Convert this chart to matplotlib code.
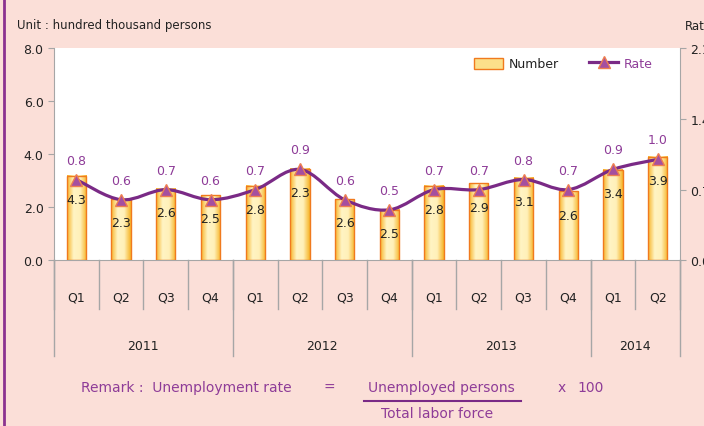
import numpy as np
import matplotlib
matplotlib.use("Agg")
import matplotlib.pyplot as plt
import matplotlib.transforms as mtransforms
from matplotlib.path import Path
from matplotlib.patches import PathPatch, Rectangle
from matplotlib.lines import Line2D
from matplotlib.colors import LinearSegmentedColormap

# data
quarters = ["Q1", "Q2", "Q3", "Q4"] * 3 + ["Q1", "Q2"]
years = ["2011", "2012", "2013", "2014"]
year_sizes = [4, 4, 4, 2]
number = [3.2, 2.3, 2.7, 2.45, 2.8, 3.45, 2.3, 1.9, 2.8, 2.9, 3.1, 2.6, 3.4, 3.9]
number_labels = ["4.3", "2.3", "2.6", "2.5", "2.8", "2.3", "2.6", "2.5",
                 "2.8", "2.9", "3.1", "2.6", "3.4", "3.9"]
rate = [0.8, 0.6, 0.7, 0.6, 0.7, 0.9, 0.6, 0.5, 0.7, 0.7, 0.8, 0.7, 0.9, 1.0]

bg = "#FBDFD8"
purple = "#7A2A86"
purple_txt = "#8E3C98"
grey = "#A6A6A6"
plt.rcParams["font.family"] = ["DejaVu Sans"]

fig = plt.figure(figsize=(7.04, 4.27), dpi=100, facecolor=bg)
W, H = 704, 427
ax = fig.add_axes([54 / W, 1 - 261.3 / H, 626 / W, 212 / H])
ax.set_facecolor("white")

x = np.arange(len(number))

# bars with a horizontal yellow gradient
cmap = LinearSegmentedColormap.from_list("bar", ["#F7B52C", "#FFF4C4", "#FFF0B8", "#F6B428"])
grad = np.linspace(0, 1, 64).reshape(1, -1)
bars = ax.bar(x, number, width=0.43, facecolor="none", edgecolor="#F07A1E", lw=1, zorder=3)
for b in bars:
    ax.imshow(grad, cmap=cmap, aspect="auto", zorder=2,
              extent=[b.get_x(), b.get_x() + b.get_width(), 0, b.get_height()])
for xi, h, lbl in zip(x, number, number_labels):
    ax.annotate(lbl, (xi, h), xytext=(0, -17), textcoords="offset points",
                ha="center", va="center", fontsize=9, color="#222222", zorder=6)

ax.set_xlim(-0.5, len(number) - 0.5)
ax.set_ylim(0, 8)
ax.set_yticks([0, 2, 4, 6, 8])
ax.set_yticklabels([f"{v:.1f}" for v in [0, 2, 4, 6, 8]])
ax.set_xticks([])
for s in ["top", "right"]:
    ax.spines[s].set_visible(False)
for s in ["left", "bottom"]:
    ax.spines[s].set_color(grey)
ax.tick_params(axis="y", colors=grey, labelcolor="#222222", labelsize=9, length=4, direction="out")

# rate line on right axis, smoothed like the original
ax2 = ax.twinx()
ax2.set_ylim(0, 2.1)
ax2.set_yticks([0, 0.7, 1.4, 2.1])
ax2.set_yticklabels([f"{v:.1f}" for v in [0, 0.7, 1.4, 2.1]])
for s in ["top", "left", "bottom"]:
    ax2.spines[s].set_visible(False)
ax2.spines["right"].set_color(grey)
ax2.tick_params(axis="y", colors=grey, labelcolor="#222222", labelsize=9, length=4)

pts = np.column_stack([x, rate]).astype(float)
n = len(pts)
verts = [pts[0]]
codes = [Path.MOVETO]
for i in range(n - 1):
    p0 = pts[i - 1] if i > 0 else pts[i]
    p3 = pts[i + 2] if i + 2 < n else pts[i + 1]
    c1 = pts[i] + (pts[i + 1] - p0) / 6
    c2 = pts[i + 1] - (p3 - pts[i]) / 6
    verts += [c1, c2, pts[i + 1]]
    codes += [Path.CURVE4] * 3
ax2.add_patch(PathPatch(Path(verts, codes), facecolor="none", edgecolor=purple, lw=2.3, zorder=4))
ax2.plot(x, rate, ls="none", marker="^", ms=9, mfc="#A54FA0", mec="#EE7F50", mew=1, zorder=5)
for xi, r in zip(x, rate):
    ax2.annotate(f"{r:.1f}", (xi, r), xytext=(0, 14), textcoords="offset points",
                 ha="center", va="center", fontsize=9, color=purple_txt)

# legend
h_num = Rectangle((0, 0), 1, 1, facecolor="#FCE08A", edgecolor="#F07A1E", lw=1)
h_rate = Line2D([], [], color=purple, lw=2.3, marker="^", ms=9, mfc="#A54FA0", mec="#EE7F50")
ax2.legend([h_num, h_rate], ["Number", "Rate"], ncol=2, frameon=False, loc="upper right",
           bbox_to_anchor=(0.975, 1.01), fontsize=9, handlelength=2.3, handleheight=1.0,
           columnspacing=2.4, handletextpad=0.5, labelcolor=["#222222", purple_txt])

# multi-level category axis
trans = mtransforms.blended_transform_factory(ax.transData, ax.transAxes)
for i, q in enumerate(quarters):
    ax.text(i, -0.173, q, transform=trans, ha="center", va="center", fontsize=9, color="#222222")
for k in range(len(quarters) + 1):
    ax.plot([k - 0.5, k - 0.5], [0, -0.23], transform=trans, color=grey, lw=1, clip_on=False)
start = 0
for yr, sz in zip(years, year_sizes):
    ax.text(start + (sz - 1) / 2, -0.404, yr, transform=trans, ha="center", va="center",
            fontsize=9, color="#222222")
    ax.plot([start - 0.5, start - 0.5], [0, -0.45], transform=trans, color=grey, lw=1, clip_on=False)
    start += sz
ax.plot([start - 0.5, start - 0.5], [0, -0.45], transform=trans, color=grey, lw=1, clip_on=False)

# texts around the chart
fig.text(17 / W, 1 - 25 / H, "Unit : hundred thousand persons", fontsize=8.5, color="#222222", va="center")
fig.text(685 / W, 1 - 27 / H, "Rate", fontsize=8.5, color="#222222", va="center")
fig.add_artist(Line2D([4 / W, 4 / W], [0, 1], transform=fig.transFigure, color="#8B3290", lw=2))

ry = 1 - 388 / H
fig.text(81 / W, ry, "Remark :  Unemployment rate", fontsize=10, color=purple_txt, va="center")
fig.text(329 / W, ry, "=", fontsize=10, color=purple_txt, va="center", ha="center")
fig.text(441 / W, ry, "Unemployed persons", fontsize=10, color=purple_txt, va="center", ha="center")
fig.add_artist(Line2D([364 / W, 521 / W], [1 - 402 / H] * 2, transform=fig.transFigure, color=purple, lw=1.5))
fig.text(562 / W, ry, "x", fontsize=10, color=purple_txt, va="center", ha="center")
fig.text(591 / W, ry, "100", fontsize=10, color=purple_txt, va="center", ha="center")
fig.text(437 / W, 1 - 414 / H, "Total labor force", fontsize=10, color=purple_txt, va="center", ha="center")

fig.savefig("out.png", dpi=100, facecolor=bg)
